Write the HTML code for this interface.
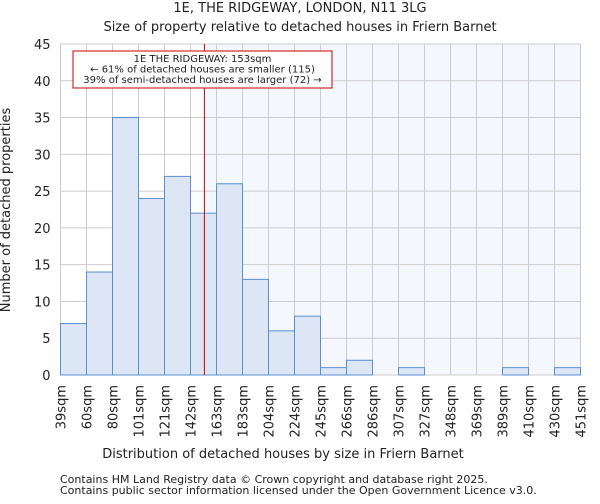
<!DOCTYPE html>
<html><head><meta charset="utf-8"><style>
body{margin:0;background:#fff;font-family:"DejaVu Sans","Liberation Sans",sans-serif}
text{font-family:"DejaVu Sans","Liberation Sans",sans-serif;fill:#222}
</style></head><body>
<svg width="600" height="500" xmlns="http://www.w3.org/2000/svg">
<text x="300" y="12" text-anchor="middle" font-size="13">1E, THE RIDGEWAY, LONDON, N11 3LG</text>
<text x="300" y="31" text-anchor="middle" font-size="13">Size of property relative to detached houses in Friern Barnet</text>
<g id="plot"></g>
<text x="283" y="458" text-anchor="middle" font-size="13">Distribution of detached houses by size in Friern Barnet</text>
<text transform="translate(10,210) rotate(-90)" text-anchor="middle" font-size="13">Number of detached properties</text>
<text x="60" y="483" font-size="11" fill="#444">Contains HM Land Registry data © Crown copyright and database right 2025.</text>
<text x="60" y="494" font-size="11" fill="#444">Contains public sector information licensed under the Open Government Licence v3.0.</text>
</svg>
<script>
const binLabels=["39sqm","60sqm","80sqm","101sqm","121sqm","142sqm","163sqm","183sqm","204sqm","224sqm","245sqm","266sqm","286sqm","307sqm","327sqm","348sqm","369sqm","389sqm","410sqm","430sqm","451sqm"];
const counts=[7,14,35,24,27,22,26,13,6,8,1,2,0,1,0,0,0,1,0,1];
const yTicks=[0,5,10,15,20,25,30,35,40,45];
const marker=153;
const binStart=39, binWidth=20.6;
const L=60.5,R=580.5,T=44,B=375,ymax=45;
const n=counts.length, bw=(R-L)/n;
const x=i=>L+i*bw;
const xv=v=>L+(v-binStart)/binWidth*bw;
const y=v=>B-v/ymax*(B-T);
const NS="http://www.w3.org/2000/svg", g=document.getElementById("plot");
function mk(t,a){const e=document.createElementNS(NS,t);for(const k in a)e.setAttribute(k,a[k]);g.appendChild(e);return e;}
const mx=xv(marker);
let e=mk("rect",{x:mx,y:T,width:R-mx,height:B-T,fill:"#f5f7fe"});


for(let i=0;i<=n;i++){e=mk("line",{x1:x(i),x2:x(i),y1:T,y2:B,stroke:"#ccc","stroke-width":1});

}
yTicks.forEach(t=>{e=mk("line",{x1:L,x2:R,y1:y(t),y2:y(t),stroke:"#ccc","stroke-width":1});


e=mk("text",{x:L-10,y:y(t)+5,"text-anchor":"end","font-size":13});e.textContent=t;

});
counts.forEach((c,i)=>{if(c<=0)return;e=mk("rect",{x:x(i),y:y(c),width:bw,height:B-y(c),fill:"#dce6f4",stroke:"#5b8fd4","stroke-width":1});

});
binLabels.forEach((l,i)=>{e=mk("text",{transform:`translate(${x(i)+5},385) rotate(-90)`,"text-anchor":"end","font-size":13});e.textContent=l;

});
e=mk("line",{x1:mx,x2:mx,y1:T,y2:B,stroke:"#cc0000","stroke-width":1});


e=mk("rect",{x:73,y:51,width:259,height:37,fill:"#fff",stroke:"#cc0000","stroke-width":1});


["1E THE RIDGEWAY: 153sqm","← 61% of detached houses are smaller (115)","39% of semi-detached houses are larger (72) →"].forEach((s,i)=>{
e=mk("text",{x:202.5,y:62+i*10.5,"text-anchor":"middle","font-size":10});e.textContent=s;

});
</script>
</body></html>
